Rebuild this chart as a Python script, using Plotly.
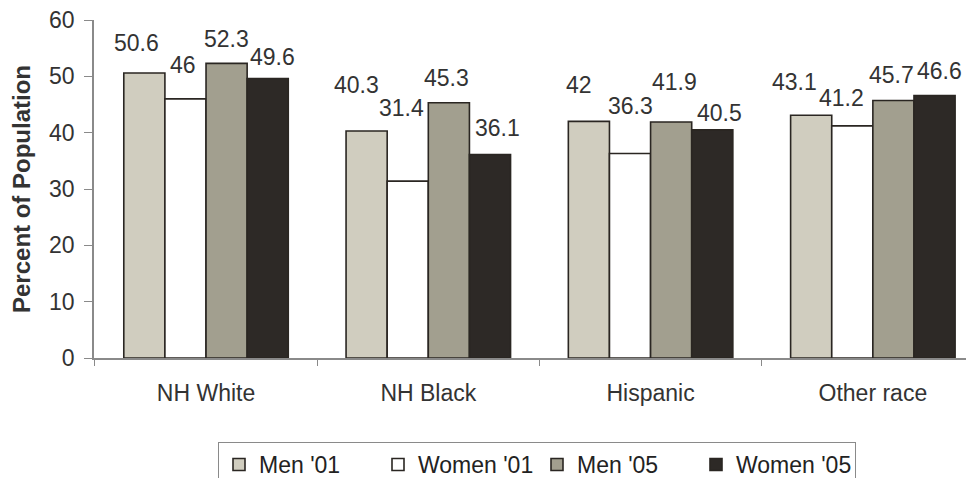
import plotly.graph_objects as go

categories = ["NH White", "NH Black", "Hispanic", "Other race"]
series_names = ["Men '01", "Women '01", "Men '05", "Women '05"]
men_01 = [50.6, 40.3, 42, 43.1]
women_01 = [46, 31.4, 36.3, 41.2]
men_05 = [52.3, 45.3, 41.9, 45.7]
women_05 = [49.6, 36.1, 40.5, 46.6]
series_values = [men_01, women_01, men_05, women_05]
y_ticks = [0, 10, 20, 30, 40, 50, 60]

colors = ["#d0cdbf", "#ffffff", "#a29f8f", "#2d2926"]
FONT = "Liberation Sans, Arial, sans-serif"
FS = 23

# label placement offsets (pixels) relative to each bar top-centre: [category][series]
label_dx = [[-8, -3, 0, 5], [-10, -6, -2, 8], [-10, 0, 3, 7], [-17, -11, -2, 5]]
label_dy = [[30, 34, 24, 22], [46, 73, 25, 27], [36, 48, 40, 17], [33, 28, 26, 24]]
bar_offsets_px = [-61.5, -20.5, 20.5, 61.5]

fig = go.Figure()
for name, vals, col in zip(series_names, series_values, colors):
    fig.add_trace(go.Bar(
        x=categories, y=vals, name=name,
        marker=dict(color=col, line=dict(color="#2a2622", width=1.6)),
    ))

for ci, cat in enumerate(categories):
    for si, vals in enumerate(series_values):
        fig.add_annotation(
            x=cat, y=vals[ci], xref="x", yref="y",
            text=f"{vals[ci]:g}", showarrow=False,
            xanchor="center", yanchor="middle",
            xshift=bar_offsets_px[si] + label_dx[ci][si],
            yshift=label_dy[ci][si],
            font=dict(family=FONT, size=FS, color="#333333"),
        )

# the page body adds an 8px offset, so margins are compensated
fig.update_layout(
    width=974, height=478,
    margin=dict(l=86, r=0, t=12, b=128, autoexpand=False),
    paper_bgcolor="white", plot_bgcolor="white",
    barmode="group", bargap=0.26, bargroupgap=0,
    font=dict(family=FONT, size=FS, color="#333333"),
    showlegend=True,
    legend=dict(
        orientation="h", xref="container", yref="container",
        x=529 / 974, xanchor="center", y=1 - 434 / 478, yanchor="top",
        bordercolor="#8a8a8a", borderwidth=1,
        font=dict(family=FONT, size=FS, color="#222222"),
        itemwidth=30, traceorder="normal",
        entrywidth=114, entrywidthmode="pixels",
    ),
)
fig.update_xaxes(
    type="category", range=[-0.504, 3.491], automargin=False,
    showline=True, linecolor="#8a8a8a", linewidth=1.5,
    ticks="outside", tickson="boundaries", ticklen=6, tickcolor="#8a8a8a",
    showgrid=False, zeroline=False, ticklabelstandoff=14,
    tickfont=dict(family=FONT, size=FS, color="#333333"),
)
fig.update_yaxes(
    range=[0, 60], tickvals=y_ticks, ticktext=[str(t) for t in y_ticks],
    automargin=False, ticklabeloverflow="allow",
    showline=True, linecolor="#8a8a8a", linewidth=1.5,
    ticks="outside", ticklen=8, tickcolor="#8a8a8a",
    showgrid=False, zeroline=False, ticklabelstandoff=5,
    tickfont=dict(family=FONT, size=FS, color="#333333"),
    title=dict(text="<b>Percent of Population</b>", standoff=13,
               font=dict(family=FONT, size=24, color="#333333")),
)

fig.write_html("out.html")
